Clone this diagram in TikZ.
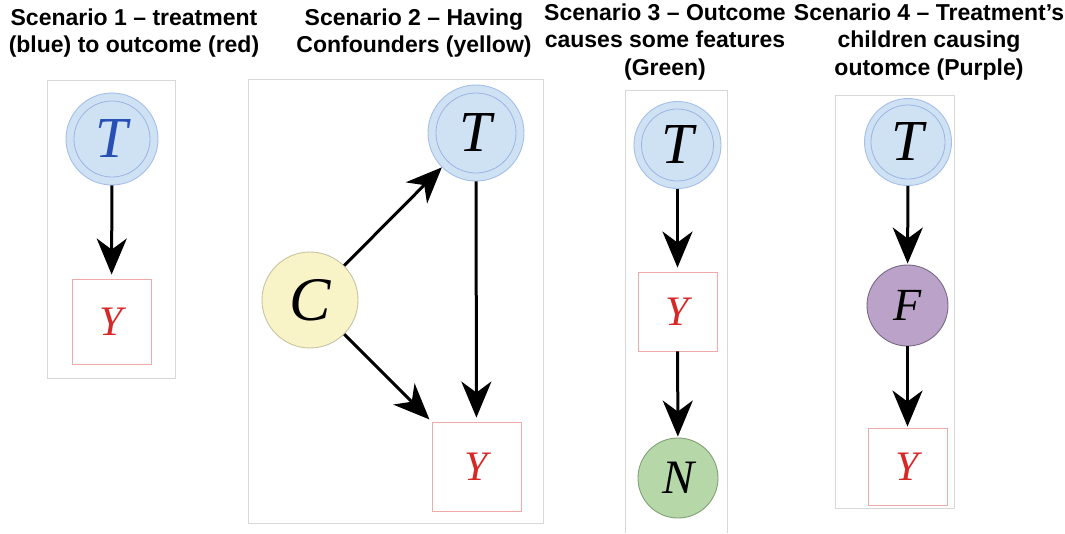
\documentclass[tikz,border=0pt]{standalone}
\usepackage{fontspec}
\setmainfont{Liberation Serif}
\newfontfamily\titlef{Liberation Sans}
\usetikzlibrary{arrows.meta}
\definecolor{framec}{RGB}{215,215,215}
\definecolor{tfill}{RGB}{207,226,243}
\definecolor{tborder}{RGB}{165,190,235}
\definecolor{tinner}{RGB}{155,180,228}
\definecolor{tblue}{RGB}{40,80,180}
\definecolor{yborder}{RGB}{240,170,170}
\definecolor{yred}{RGB}{215,40,40}
\definecolor{cfill}{RGB}{249,244,200}
\definecolor{cborder}{RGB}{200,195,160}
\definecolor{nfill}{RGB}{182,215,168}
\definecolor{nborder}{RGB}{130,160,120}
\definecolor{ffill}{RGB}{187,162,201}
\definecolor{fborder}{RGB}{120,105,130}
\begin{document}
\begin{tikzpicture}[x=1pt,y=-1pt,
  frame/.style={draw=framec,line width=1pt},
  title/.style={align=center,font=\titlef\bfseries\fontsize{23}{27.5}\selectfont,inner sep=0pt},
  tnode/.style={circle,fill=tfill,draw=tborder,line width=0.9pt,minimum size=#1,inner sep=0pt,font=\itshape\fontsize{58}{58}\selectfont},
  innerc/.style={draw=tinner,line width=0.8pt},
  ynode/.style={rectangle,draw=yborder,line width=0.9pt,inner sep=0pt,text=yred,font=\itshape\fontsize{42}{42}\selectfont},
  cnode/.style={circle,fill=cfill,draw=cborder,line width=0.9pt,minimum size=96pt,inner sep=0pt,font=\itshape\fontsize{62}{62}\selectfont},
  nnode/.style={circle,fill=nfill,draw=nborder,line width=0.9pt,minimum size=80pt,inner sep=0pt,font=\itshape\fontsize{48}{48}\selectfont},
  fnode/.style={circle,fill=ffill,draw=fborder,line width=0.9pt,minimum size=81pt,inner sep=0pt,font=\itshape\fontsize{46}{46}\selectfont},
  arr/.style={line width=3pt,-{Stealth[length=36pt,width=30pt,inset=11pt]}}
]
\useasboundingbox (0,0) rectangle (1065,533);
\fill[white] (0,0) rectangle (1065,533);

% titles
\node[title] (t1) at (134,33) {Scenario 1 – treatment\\(blue) to outcome (red)};
\node[title] (t2) at (414,33) {Scenario 2 – Having\\Confounders (yellow)};
\node[title] (t3) at (665,42) {Scenario 3 – Outcome\\causes some features\\(Green)};
\node[title] (t4) at (929,42) {Scenario 4 – Treatment’s\\children causing\\outomce (Purple)};

% frames
\draw[frame] (47,80) rectangle (175,378);
\draw[frame] (248,79) rectangle (543,523);
\draw[frame] (625,533) -- (625,90) -- (727,90) -- (727,533);
\draw[frame] (835,95) rectangle (954,508);

% panel 1
\node[tnode=92pt,text=tblue] (T1) at (112,139) {T};
\draw[innerc] (T1.center) circle (38pt);
\node[ynode,minimum width=79pt,minimum height=85pt] (Y1) at (111.5,321.5) {Y};
\draw[arr,shorten >=4pt] (T1) -- (Y1);

% panel 2
\node[tnode=96pt] (T2) at (476,133) {T};
\draw[innerc] (T2.center) circle (40pt);
\node[cnode] (C) at (310,300) {C};
\node[ynode,minimum width=89pt,minimum height=89pt] (Y2) at (476.5,466.5) {Y};
\draw[arr] (C) -- (T2);
\draw[arr,shorten >=3pt] (C) -- (Y2.north west);
\draw[arr,shorten >=4pt] (T2) -- (Y2);

% panel 3
\node[tnode=87pt] (T3) at (677.5,145) {T};
\draw[innerc] (T3.center) circle (36pt);
\node[ynode,minimum width=79pt,minimum height=79pt] (Y3) at (677.5,311.5) {Y};
\node[nnode] (N) at (678,478) {N};
\draw[arr,shorten >=4pt] (T3) -- (Y3);
\draw[arr,shorten >=1pt] (Y3) -- (N);

% panel 4
\node[tnode=87pt] (T4) at (908,142) {T};
\draw[innerc] (T4.center) circle (37pt);
\node[fnode] (F) at (907.5,305.5) {F};
\node[ynode,minimum width=79pt,minimum height=77pt] (Y4) at (907.5,466.5) {Y};
\draw[arr,shorten >=1pt] (T4) -- (F);
\draw[arr,shorten >=1pt] (F) -- (Y4);
\end{tikzpicture}
\end{document}
